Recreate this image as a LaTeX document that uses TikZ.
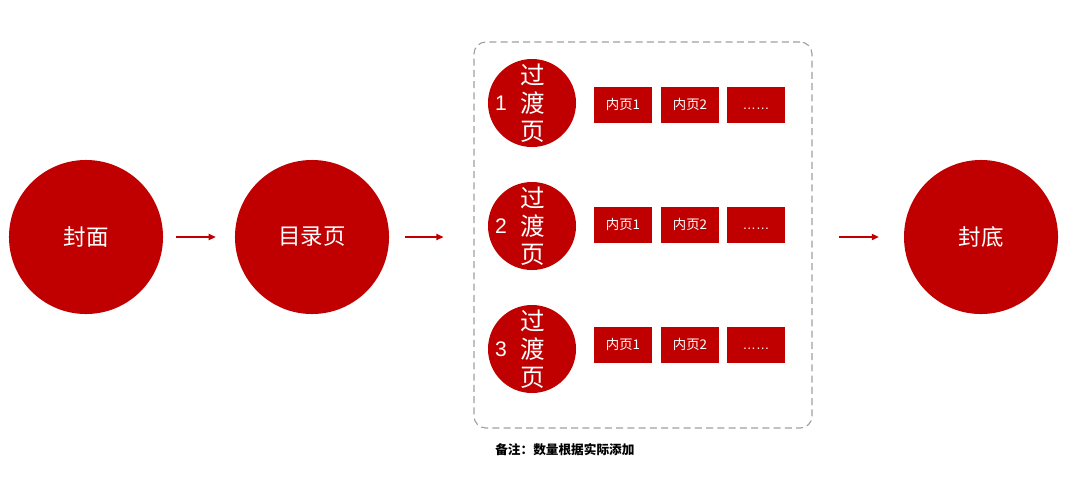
\documentclass[tikz,border=0pt]{standalone}
\usepackage{fontspec}
\setmainfont{Noto Sans CJK SC}
\newfontfamily\latinfont{Liberation Sans}
\usetikzlibrary{arrows.meta}
\definecolor{pptred}{HTML}{C00000}
\definecolor{boxgray}{HTML}{A0A0A0}
\tikzset{
  bigdot/.style={circle, fill=pptred, minimum size=3.85cm, inner sep=0pt, text=white, font=\fontsize{16}{19}\selectfont},
  smalldot/.style={circle, fill=pptred, minimum size=2.2cm, inner sep=0pt},
  pagebox/.style={fill=pptred, minimum width=1.45cm, minimum height=0.9cm, inner sep=0pt, text=white, text height=0.8em, text depth=0.2em, font=\fontsize{9.5}{11}\selectfont},
  flow/.style={pptred, line width=0.8pt, -{Triangle[length=5pt,width=4.5pt]}}
}
\begin{document}
\begin{tikzpicture}[x=0.025cm, y=-0.025cm]
    \useasboundingbox (0,0) rectangle (1069,482);
    % main pages
    \node[bigdot] (feng) at (86,237) {封面};
    \node[bigdot] (mulu) at (312,237) {目录页};
    \node[bigdot] (fengdi) at (981,237) {封底};
    % section group
    \node[draw=boxgray, dash pattern=on 5pt off 3pt, line width=0.8pt, rounded corners=0.3cm, minimum width=8.45cm, minimum height=9.65cm] (grp) at (643,235) {};
    \foreach \i/\cy/\ry in {1/103/105, 2/226/225, 3/349/345} {
        \node[smalldot] (gd\i) at (532,\cy) {};
        \node[text=white, align=center, font=\fontsize{17.5}{20}\selectfont] (txt\i) at (533,\cy) {过\\渡\\页};
        \node[text=white, font=\latinfont\fontsize{15}{18}\selectfont] (num\i) at (501,\cy) {\i};
        \node[pagebox] (np\i a) at (623,\ry) {内页1};
        \node[pagebox] (np\i b) at (690,\ry) {内页2};
        \node[pagebox, font=\latinfont\fontsize{9.5}{11}\selectfont] (np\i c) at (756,\ry) {……};
    }
    % arrows
    \draw[flow, shorten <=9.2pt, shorten >=13.5pt] (feng.east) -- (mulu.west);
    \draw[flow, shorten <=11.3pt, shorten >=21.3pt] (mulu.east) -- (mulu.east -| grp.west);
    \draw[flow, shorten <=19.1pt, shorten >=17.7pt] (fengdi.west -| grp.east) -- (fengdi.west);
    \node[anchor=west, inner sep=0pt, font=\bfseries\fontsize{9}{11}\selectfont] (note) at (495,450) {备注：数量根据实际添加};
\end{tikzpicture}
\end{document}
